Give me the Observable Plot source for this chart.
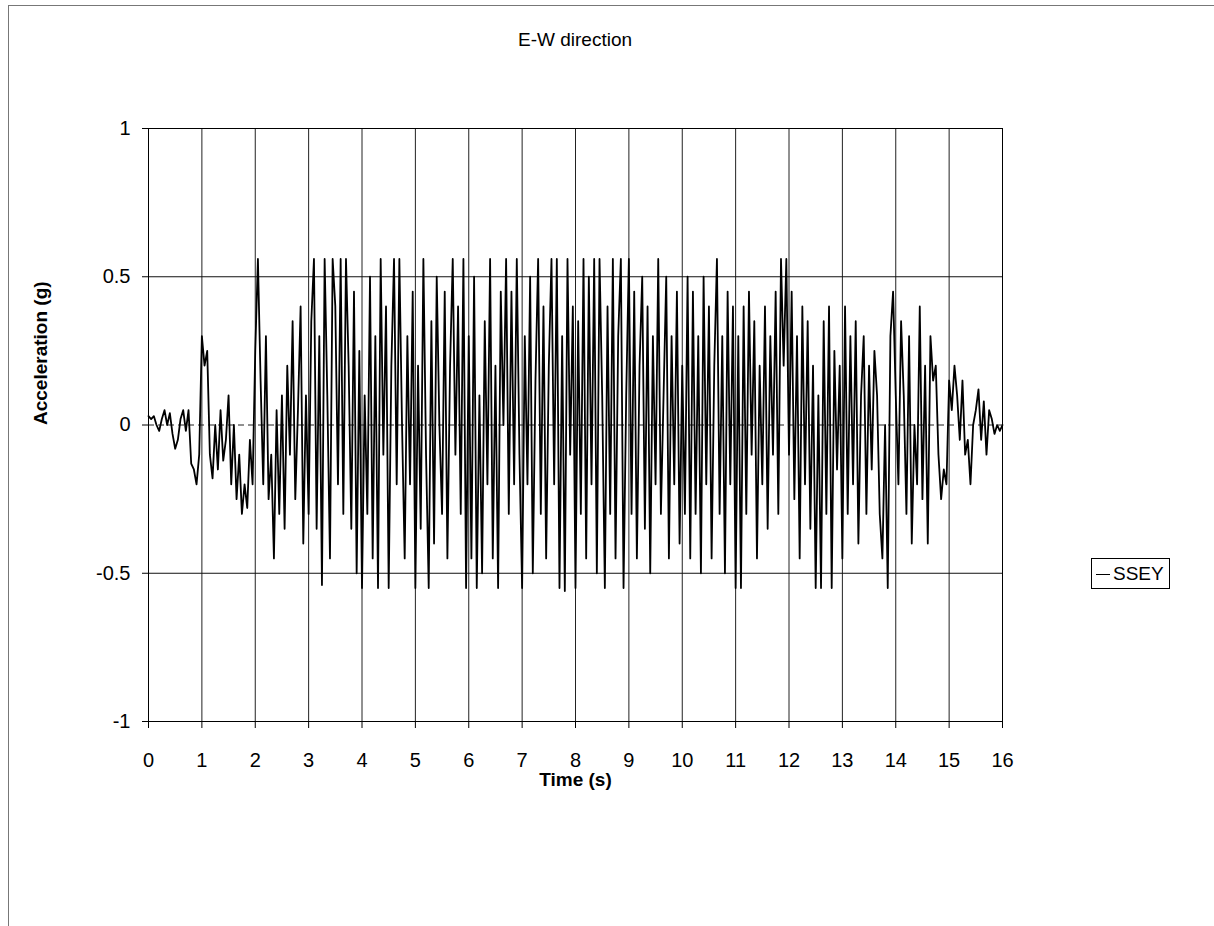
<!DOCTYPE html>
<html>
<head>
<meta charset="utf-8">
<script src="https://cdn.jsdelivr.net/npm/d3@7"></script>
<script src="https://cdn.jsdelivr.net/npm/@observablehq/plot@0.6"></script>
<style>
  html, body { margin: 0; padding: 0; background: #fff; }
  #wrap { position: relative; width: 1214px; height: 926px; font-family: "Liberation Sans", Arial, sans-serif; }
  #border { position: absolute; left: 8px; top: 5px; width: 1220px; height: 940px; border: 1px solid #777; }
  #title { position: absolute; left: 0; width: 1150px; top: 29px; text-align: center; font-size: 19px; color: #000; }
  #legend { position: absolute; left: 1091px; top: 558px; width: 79px; height: 31px; border: 1px solid #000; font-size: 19px; line-height: 30px; box-sizing: border-box; }
  #legend span.l { display: inline-block; width: 14px; height: 0; border-top: 1.3px solid #000; vertical-align: middle; margin-left: 4px; margin-right: 3px; }
  #chart { position: absolute; left: 0; top: 0; }
</style>
</head>
<body>
<div id="wrap">
  <div id="border"></div>
  <div id="chart"></div>
  <div id="title">E-W direction</div>
  <div id="legend"><span class="l"></span>SSEY</div>
</div>
<script>
// Time step of the read-off samples (s)
const dt = 0.05;
// Acceleration (g), one row per second
const sec00 = [0.03,0.02,0.03,0.0,-0.02,0.02,0.05,0.0,0.04,-0.03,-0.08,-0.05,0.02,0.05,-0.02,0.05,-0.13,-0.15,-0.2,-0.1];
const sec01 = [0.3,0.2,0.25,-0.1,-0.18,0.0,-0.15,0.05,-0.12,-0.05,0.1,-0.2,0.0,-0.25,-0.1,-0.3,-0.2,-0.28,-0.05,-0.2];
const sec02 = [0.25,0.56,0.15,-0.2,0.3,-0.25,-0.1,-0.45,0.05,-0.3,0.1,-0.35,0.2,-0.1,0.35,-0.25,0.05,0.4,-0.4,0.1];
const sec03 = [-0.3,0.35,0.56,-0.35,0.3,-0.54,0.56,0.1,-0.45,0.56,0.4,-0.2,0.56,-0.3,0.56,0.2,-0.35,0.45,-0.5,0.25];
const sec04 = [-0.55,0.1,-0.3,0.5,-0.45,0.3,-0.55,0.56,-0.1,0.4,-0.55,0.2,0.56,-0.2,0.56,0.0,-0.45,0.3,-0.2,0.45];
const sec05 = [-0.55,0.2,-0.35,0.56,-0.1,-0.55,0.35,-0.4,0.5,0.0,-0.3,0.45,-0.45,0.2,0.56,-0.1,0.4,-0.3,0.56,-0.55];
const sec06 = [0.3,-0.45,0.5,-0.55,0.1,-0.5,0.35,-0.2,0.56,-0.45,0.2,-0.55,0.45,0.0,0.56,-0.3,0.45,-0.2,0.56,-0.1];
const sec07 = [-0.55,0.3,-0.2,0.5,-0.5,0.15,0.56,-0.3,0.4,-0.45,0.2,0.56,-0.2,0.56,-0.55,0.3,-0.56,0.56,-0.1,0.4];
const sec08 = [-0.55,0.35,-0.3,0.56,-0.45,0.5,-0.2,0.56,-0.5,0.56,0.1,-0.55,0.4,-0.3,0.56,-0.45,0.3,0.56,-0.55,0.1];
const sec09 = [0.56,-0.3,0.45,-0.45,0.2,0.5,-0.35,0.4,-0.5,0.3,-0.2,0.56,-0.3,0.1,0.5,-0.45,0.3,-0.2,0.45,-0.4];
const sec10 = [0.2,-0.3,0.5,-0.45,0.45,-0.3,0.3,-0.5,0.5,-0.2,0.4,-0.45,0.2,0.56,-0.3,0.3,-0.5,0.45,-0.2,0.4];
const sec11 = [-0.55,0.3,-0.55,0.4,-0.3,0.45,-0.1,0.35,-0.45,0.2,-0.2,0.4,-0.35,0.3,-0.1,0.45,-0.3,0.56,0.2,0.56];
const sec12 = [-0.1,0.45,-0.25,0.3,-0.45,0.4,-0.2,0.35,-0.35,0.2,-0.55,0.1,-0.55,0.35,-0.3,0.4,-0.55,0.25,-0.15,0.2];
const sec13 = [-0.45,0.4,-0.3,0.3,-0.2,0.35,-0.4,0.1,0.3,-0.3,0.2,-0.15,0.25,0.1,-0.3,-0.45,0.0,-0.55,0.3,0.45];
const sec14 = [0.1,-0.2,0.35,0.1,-0.3,0.3,-0.4,0.0,-0.2,0.4,-0.25,0.2,-0.4,0.3,0.15,0.2,-0.1,-0.25,-0.15,-0.2];
const sec15 = [0.15,0.05,0.2,0.1,-0.05,0.15,-0.1,-0.05,-0.2,0.0,0.05,0.12,-0.05,0.08,-0.1,0.05,0.02,-0.03,0.0,-0.02,0.0];
const accel = [sec00,sec01,sec02,sec03,sec04,sec05,sec06,sec07,sec08,sec09,sec10,sec11,sec12,sec13,sec14,sec15].flat();
const xTicks = [0,1,2,3,4,5,6,7,8,9,10,11,12,13,14,15,16];
const yTicks = [-1,-0.5,0,0.5,1];
const seriesName = "SSEY";

const data = accel.map((a, i) => ({t: +(i * dt).toFixed(2), a}));

const chart = Plot.plot({
  width: 1214,
  height: 926,
  marginLeft: 148,
  marginRight: 212,
  marginTop: 128,
  marginBottom: 205,
  style: {fontFamily: "'Liberation Sans', Arial, sans-serif", fontSize: "19px", color: "#000", background: "transparent"},
  x: {domain: [0, 16], label: null},
  y: {domain: [-1, 1], label: null},
  marks: [
    Plot.ruleX(xTicks.slice(1, -1), {stroke: "#222", strokeWidth: 1}),
    Plot.ruleY([0.5, -0.5], {stroke: "#111", strokeWidth: 1}),
    Plot.ruleY([0], {stroke: "#222", strokeWidth: 1, strokeDasharray: "6,4"}),
    Plot.frame({stroke: "#000", strokeWidth: 1}),
    Plot.line(data, {x: "t", y: "a", stroke: "#000", strokeWidth: 1.8}),
    Plot.axisX({ticks: xTicks, tickFormat: d => String(d), tickSize: 7, tickPadding: 24, fontSize: 20, label: null}),
    Plot.axisY({ticks: yTicks, tickFormat: d => String(d), tickSize: 6, tickPadding: 12, fontSize: 20, label: null}),
    Plot.text(["Time (s)"], {frameAnchor: "bottom", dy: 64, fontWeight: "bold", fontSize: 19}),
    Plot.text(["Acceleration (g)"], {frameAnchor: "left", dx: -108, rotate: -90, fontWeight: "bold", fontSize: 19})
  ]
});
document.getElementById("chart").appendChild(chart);
document.querySelector("#legend").lastChild.textContent = seriesName;
</script>
</body>
</html>
